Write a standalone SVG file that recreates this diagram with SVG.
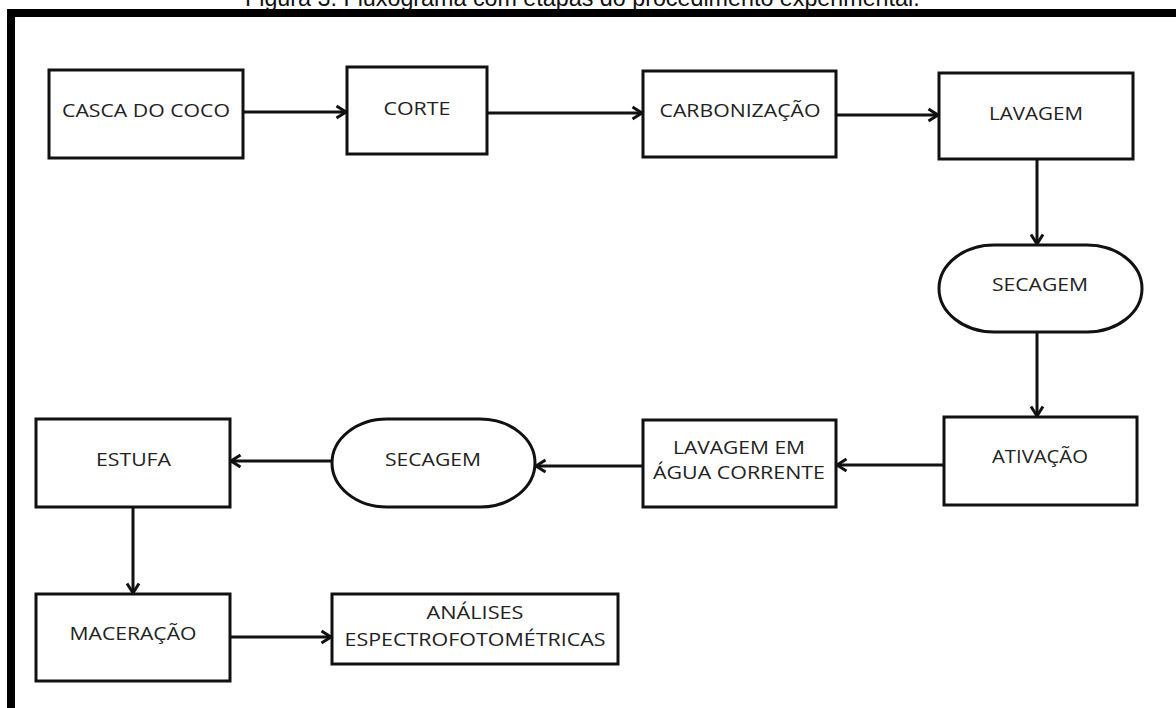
<svg xmlns="http://www.w3.org/2000/svg" width="1176" height="708" viewBox="0 0 1176 708">
<style>
.box{fill:#fff;stroke:#111;stroke-width:3}
.lbl{font-family:"Open Sans","Noto Sans",sans-serif;font-size:18px;fill:#222;text-anchor:middle}
.conn{stroke:#111;stroke-width:3;fill:none;marker-end:url(#arr)}
.title{font-family:"Liberation Sans",Arial,sans-serif;font-size:23.3px;fill:#111}
</style>
<defs>
<marker id="arr" markerUnits="userSpaceOnUse" markerWidth="14" markerHeight="16" viewBox="0 0 14 16" refX="11" refY="8" orient="auto">
<path d="M1.5,2 L11,8 L1.5,14" fill="none" stroke="#111" stroke-width="3"/>
</marker>
</defs>
<rect width="1176" height="708" fill="#fff"/>
<text class="title" x="245" y="6">Figura 3: Fluxograma com etapas do procedimento experimental.</text>
<g id="frame">
<rect x="7" y="9" width="1169" height="8" fill="#000"/>
<rect x="7" y="9" width="8" height="699" fill="#000"/>
</g>
<g id="connectors">
<line class="conn" x1="243" y1="112" x2="346" y2="112"/>
<line class="conn" x1="487" y1="113" x2="642" y2="113"/>
<line class="conn" x1="836" y1="115" x2="938" y2="115"/>
<line class="conn" x1="1037" y1="159" x2="1037" y2="244"/>
<line class="conn" x1="1037" y1="332" x2="1037" y2="416"/>
<line class="conn" x1="944" y1="465" x2="837" y2="465"/>
<line class="conn" x1="643" y1="466" x2="536" y2="466"/>
<line class="conn" x1="332" y1="461" x2="231" y2="461"/>
<line class="conn" x1="133" y1="507" x2="133" y2="593"/>
<line class="conn" x1="230" y1="637" x2="331" y2="637"/>
</g>
<g id="casca"><rect class="box" x="49" y="70" width="194" height="88"/><text class="lbl" x="146" y="117" textLength="168" lengthAdjust="spacingAndGlyphs">CASCA DO COCO</text></g>
<g id="corte"><rect class="box" x="347" y="67" width="140" height="87"/><text class="lbl" x="417" y="115" textLength="67" lengthAdjust="spacingAndGlyphs">CORTE</text></g>
<g id="carbonizacao"><rect class="box" x="643" y="71" width="193" height="86"/><text class="lbl" x="740" y="117" textLength="161" lengthAdjust="spacingAndGlyphs">CARBONIZAÇÃO</text></g>
<g id="lavagem"><rect class="box" x="939" y="73" width="194" height="86"/><text class="lbl" x="1036" y="120" textLength="94" lengthAdjust="spacingAndGlyphs">LAVAGEM</text></g>
<g id="secagem1"><rect class="box" x="939" y="245" width="203" height="87" rx="55" ry="43.5"/><text class="lbl" x="1040" y="291" textLength="96" lengthAdjust="spacingAndGlyphs">SECAGEM</text></g>
<g id="ativacao"><rect class="box" x="944" y="417" width="193" height="88"/><text class="lbl" x="1040" y="463" textLength="96" lengthAdjust="spacingAndGlyphs">ATIVAÇÃO</text></g>
<g id="lavagem-agua"><rect class="box" x="643" y="420" width="193" height="87"/><text class="lbl" x="739" y="454" textLength="132" lengthAdjust="spacingAndGlyphs">LAVAGEM EM</text><text class="lbl" x="739" y="479" textLength="172" lengthAdjust="spacingAndGlyphs">ÁGUA CORRENTE</text></g>
<g id="secagem2"><rect class="box" x="332" y="419" width="203" height="88" rx="55" ry="44"/><text class="lbl" x="433" y="466" textLength="96" lengthAdjust="spacingAndGlyphs">SECAGEM</text></g>
<g id="estufa"><rect class="box" x="36" y="419" width="194" height="88"/><text class="lbl" x="133.5" y="466" textLength="75" lengthAdjust="spacingAndGlyphs">ESTUFA</text></g>
<g id="maceracao"><rect class="box" x="36" y="594" width="194" height="87"/><text class="lbl" x="133" y="640" textLength="127" lengthAdjust="spacingAndGlyphs">MACERAÇÃO</text></g>
<g id="analises"><rect class="box" x="332" y="594" width="286" height="70"/><text class="lbl" x="475" y="619" textLength="97" lengthAdjust="spacingAndGlyphs">ANÁLISES</text><text class="lbl" x="475" y="646" textLength="261" lengthAdjust="spacingAndGlyphs">ESPECTROFOTOMÉTRICAS</text></g>
</svg>
